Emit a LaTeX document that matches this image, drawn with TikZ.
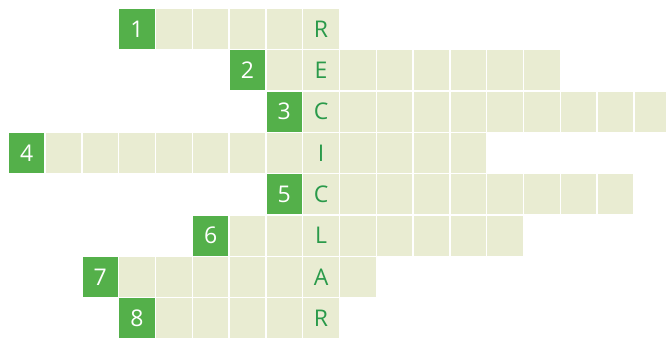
\documentclass[tikz,border=0pt]{standalone}
\usepackage{fontspec}
\setmainfont{Open Sans}
\definecolor{cellgreen}{HTML}{54B04A}
\definecolor{cellbeige}{HTML}{E9ECD2}
\definecolor{lettergreen}{HTML}{2A9A4A}
\begin{document}
\begin{tikzpicture}[x=1pt,y=-1pt,
  cell/.style={minimum width=35.5pt, minimum height=40pt, inner sep=0pt,
    anchor=north west, fill=cellbeige, font=\fontsize{23}{23}\selectfont},
  numcell/.style={cell, fill=cellgreen, text=white},
  letcell/.style={cell, text=lettergreen}]
\useasboundingbox (0,0) rectangle (666,338);
\clip (0,0) rectangle (666,338);
\foreach \r/\s/\n/\e/\L in {0/3/1/8/R, 1/6/2/14/E, 2/7/3/17/C, 3/0/4/12/I,
                             4/7/5/16/C, 5/5/6/13/L, 6/2/7/9/A, 7/3/8/8/R}{
  \pgfmathsetmacro\y{8.8+41.3*\r}
  \pgfmathtruncatemacro\a{\s+1}
  \node[numcell] (n\r) at ({8.7+36.8*\s},\y) {\n};
  \node[letcell] (l\r) at ({8.7+36.8*8},\y) {\L};
  \foreach \c in {\a,...,\e}{
    \ifnum\c=8\relax\else
      \node[cell] (c\r-\c) at ({8.7+36.8*\c},\y) {};
    \fi
  }
}
\end{tikzpicture}
\end{document}
